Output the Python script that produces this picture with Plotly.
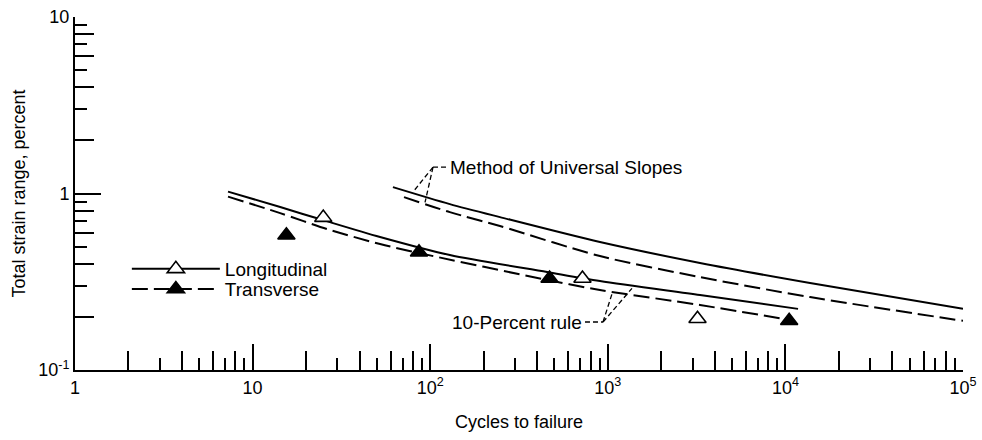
import numpy as np
import plotly.graph_objects as go

# ---------------- data ----------------
# 10-percent rule predictions
ten_long_x = [7.27, 14.3, 24.9, 52.2, 129, 455, 903, 3305, 11780]
ten_long_y = [1.025, 0.838, 0.707, 0.567, 0.448, 0.359, 0.319, 0.266, 0.222]
ten_trans_x = [7.27, 14.3, 26.2, 52.2, 86.5, 455, 903, 3305, 10600]
ten_trans_y = [0.960, 0.774, 0.629, 0.517, 0.46, 0.324, 0.284, 0.2335, 0.192]

# Method of Universal Slopes predictions
mus_long_x = [61.7, 129, 247, 903, 3305, 13760, 100000]
mus_long_y = [1.087, 0.871, 0.735, 0.531, 0.404, 0.311, 0.222]
mus_trans_x = [71.2, 129, 247, 903, 3305, 13760, 100000]
mus_trans_y = [0.954, 0.784, 0.654, 0.442, 0.336, 0.259, 0.19]

# experimental points
long_x = [25, 720, 3200]
long_y = [0.73, 0.33, 0.195]
trans_x = [15.5, 86.5, 470, 10500]
trans_y = [0.58, 0.465, 0.33, 0.19]

# leader lines of the two labels
mus_lead_x = [[103.7, 124.3], [103.7, 80], [103.7, 93.5]]
mus_lead_y = [[1.41, 1.41], [1.41, 1.02], [1.41, 0.89]]
ten_lead_x = [[744, 940], [940, 1056], [940, 1368]]
ten_lead_y = [[0.187, 0.187], [0.187, 0.27], [0.187, 0.29]]

# axis ticks
x_major = [1, 10, 100, 1000, 10000, 100000]
x_major_text = ["1", "10", "10<sup>2</sup>", "10<sup>3</sup>", "10<sup>4</sup>", "10<sup>5</sup>"]
x_even = [m * d for d in [1, 10, 100, 1000, 10000] for m in (2, 4, 6, 8)]
x_odd = [m * d for d in [1, 10, 100, 1000, 10000] for m in (3, 5, 7, 9)]
y_major = [0.1, 1, 10]
y_major_text = ["10<sup>-1</sup>", "1", "10"]
y_even = [m * d for d in [0.1, 1] for m in (2, 4, 6, 8)]
y_odd = [m * d for d in [0.1, 1] for m in (3, 5, 7, 9)]

FONT = "Liberation Sans, Arial, sans-serif"
BLACK = "#000000"

fig = go.Figure()

solid = dict(color=BLACK, width=2)
dashed = dict(color=BLACK, width=2, dash="16px,6px")

for xs, ys, ln in [(ten_long_x, ten_long_y, solid), (ten_trans_x, ten_trans_y, dashed),
                   (mus_long_x, mus_long_y, solid), (mus_trans_x, mus_trans_y, dashed)]:
    fig.add_trace(go.Scatter(x=xs, y=ys, mode="lines", line=dict(**ln, shape="spline", smoothing=0.8),
                             showlegend=False, hoverinfo="skip"))

for xs, ys in list(zip(mus_lead_x, mus_lead_y)) + list(zip(ten_lead_x, ten_lead_y)):
    fig.add_trace(go.Scatter(x=xs, y=ys, mode="lines", line=dict(color=BLACK, width=1.3, dash="5px,3px"),
                             showlegend=False, hoverinfo="skip"))

open_marker = dict(symbol="triangle-up", size=15, color="white", line=dict(color=BLACK, width=1.6))
filled_marker = dict(symbol="triangle-up", size=15, color=BLACK, line=dict(color=BLACK, width=1.6))

fig.add_trace(go.Scatter(x=long_x, y=long_y, mode="markers", name="Longitudinal", showlegend=False,
                         marker=open_marker))
fig.add_trace(go.Scatter(x=trans_x, y=trans_y, mode="markers", name="Transverse", showlegend=False,
                         marker=filled_marker))

# legend entries
fig.add_trace(go.Scatter(x=[None], y=[None], mode="lines+markers", name="Longitudinal",
                         line=solid, marker=open_marker, legend="legend"))
fig.add_trace(go.Scatter(x=[None], y=[None], mode="lines+markers", name="Transverse",
                         line=dashed, marker=filled_marker, legend="legend2"))

# dummy trace on the overlay axes carrying the short ticks
fig.add_trace(go.Scatter(x=[None], y=[None], xaxis="x2", yaxis="y2", showlegend=False, hoverinfo="skip"))

fig.add_annotation(x=np.log10(124.3) + 0.004, y=np.log10(1.41), text="Method of Universal Slopes",
                   showarrow=False, xanchor="left", yanchor="middle",
                   font=dict(family=FONT, size=19, color=BLACK))
fig.add_annotation(x=np.log10(744) - 0.004, y=np.log10(0.187), text="10-Percent rule",
                   showarrow=False, xanchor="right", yanchor="middle",
                   font=dict(family=FONT, size=19, color=BLACK))

tick_common = dict(type="log", showgrid=False, zeroline=False, ticks="inside",
                   tickcolor=BLACK, tickwidth=1.6, automargin=False)

legend_common = dict(xanchor="left", yanchor="top", bgcolor="rgba(0,0,0,0)",
                     font=dict(family=FONT, size=19, color=BLACK), itemwidth=88, tracegroupgap=0)

fig.update_layout(
    template="none",
    width=982, height=440,
    margin=dict(l=75, r=19, t=17, b=70),
    paper_bgcolor="white", plot_bgcolor="white",
    font=dict(family=FONT, size=18, color=BLACK),
    xaxis=dict(**tick_common, range=[0, 5], showline=True, linecolor=BLACK, linewidth=2,
               tickvals=x_major, ticktext=x_major_text, ticklen=26,
               tickfont=dict(family=FONT, size=18, color=BLACK),
               minor=dict(tickvals=x_even, ticks="inside", ticklen=19, tickcolor=BLACK, tickwidth=1.6,
                          showgrid=False),
               title=dict(text="Cycles to failure", font=dict(family=FONT, size=18, color=BLACK),
                          standoff=19)),
    yaxis=dict(**tick_common, range=[-1, 1], showline=True, linecolor=BLACK, linewidth=2,
               tickvals=y_major, ticktext=y_major_text, ticklen=26,
               tickfont=dict(family=FONT, size=18, color=BLACK),
               minor=dict(tickvals=y_even, ticks="inside", ticklen=19, tickcolor=BLACK, tickwidth=1.6,
                          showgrid=False),
               title=dict(text="Total strain range, percent", font=dict(family=FONT, size=18, color=BLACK),
                          standoff=8)),
    xaxis2=dict(**tick_common, range=[0, 5], overlaying="x", anchor="y2", showline=False,
                tickvals=x_odd, ticklen=12, showticklabels=False),
    yaxis2=dict(**tick_common, range=[-1, 1], overlaying="y", anchor="x2", showline=False,
                tickvals=y_odd, ticklen=12, showticklabels=False),
    showlegend=True,
    legend=dict(**legend_common, x=0.0584, y=0.34),
    legend2=dict(**legend_common, x=0.0584, y=0.283),
)

fig.write_html("out.html")
